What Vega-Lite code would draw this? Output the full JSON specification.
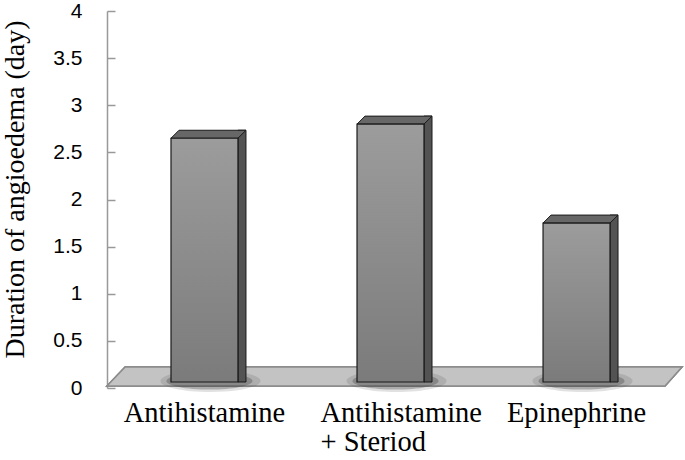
{
  "$schema": "https://vega.github.io/schema/vega-lite/v6.json",
  "width": 567,
  "height": 377,
  "autosize": "none",
  "padding": {"left": 107, "top": 11, "right": 11, "bottom": 72},
  "background": "white",
  "config": {"view": {"stroke": null}},
  "data": {"values": [
    {"treatment": "Antihistamine", "days": 2.65},
    {"treatment": "Antihistamine + Steriod", "days": 2.8},
    {"treatment": "Epinephrine", "days": 1.75}
  ]},
  "encoding": {
    "x": {
      "field": "treatment", "type": "nominal", "sort": null,
      "scale": {"domain": ["Antihistamine", "Antihistamine + Steriod", "Epinephrine"], "paddingInner": 0.64, "paddingOuter": 0.344},
      "axis": {
        "title": null, "domain": false, "ticks": false,
        "labelFont": "Liberation Serif", "labelFontSize": 28.5, "labelColor": "black",
        "labelPadding": 10, "labelAngle": 0, "labelLineHeight": 29, "labelOverlap": false, "labelLimit": 0,
        "labelAlign": {"condition": {"test": "datum.value == 'Antihistamine + Steriod'", "value": "left"}, "value": "center"},
        "labelOffset": {"condition": {"test": "datum.value == 'Antihistamine + Steriod'", "value": -70}, "value": 0},
        "labelExpr": "datum.value == 'Antihistamine + Steriod' ? ['Antihistamine', '+ Steriod'] : datum.value"
      }
    },
    "y": {
      "field": "days", "type": "quantitative",
      "scale": {"domain": [0, 4]},
      "axis": {
        "title": "Duration of angioedema (day)",
        "values": [0, 0.5, 1, 1.5, 2, 2.5, 3, 3.5, 4],
        "format": "~g", "grid": false,
        "labelFont": "Liberation Sans", "labelFontSize": 21, "labelColor": "black", "labelPadding": 33,
        "tickSize": -8, "tickColor": "#999999", "tickWidth": 1.5,
        "domainColor": "#999999", "domainWidth": 1.5,
        "titleFont": "Liberation Serif", "titleFontSize": 28, "titleFontWeight": "normal", "titleColor": "black",
        "titleX": -92, "titleY": 178, "titleAngle": -90, "titleBaseline": "middle", "titleAlign": "center"
      }
    }
  },
  "layer": [
    {
      "mark": {"type": "point", "shape": "M -1 0.033 L 0.941 0.033 L 1 -0.033 L -0.937 -0.033 Z", "size": 330625, "filled": true, "fill": "#c3c3c3", "stroke": "#8c8c8c", "strokeWidth": 1.5, "opacity": 1, "xOffset": 4},
      "encoding": {"x": {"datum": "Antihistamine + Steriod"}, "y": {"datum": 0.122}}
    },
    {
      "mark": {"type": "point", "shape": "M -1 0 A 1 0.22 0 1 1 1 0 A 1 0.22 0 1 1 -1 0 Z", "size": 10000, "filled": true, "fill": "#333333", "strokeWidth": 0, "opacity": 0.15, "xOffset": 6, "yOffset": -7},
      "encoding": {"y": {"datum": 0}}
    },
    {
      "mark": {"type": "point", "shape": "M -1 0 A 1 0.2 0 1 1 1 0 A 1 0.2 0 1 1 -1 0 Z", "size": 7400, "filled": true, "fill": "#333333", "strokeWidth": 0, "opacity": 0.3, "xOffset": 5, "yOffset": -7},
      "encoding": {"y": {"datum": 0}}
    },
    {
      "mark": {"type": "bar", "width": 8, "xOffset": 37.5, "yOffset": -8, "y2Offset": -6, "fill": "#535353", "stroke": "#1a1a1a", "strokeWidth": 1},
      "encoding": {"y2": {"datum": 0}}
    },
    {
      "mark": {"type": "point", "shape": "M -0.893 0 L -0.68 -0.213 L 1.107 -0.213 L 0.893 0 Z", "size": 5625, "filled": true, "fill": "#676767", "stroke": "#1a1a1a", "strokeWidth": 1, "opacity": 1}
    },
    {
      "mark": {"type": "bar", "y2Offset": -6, "stroke": "#1a1a1a", "strokeWidth": 1.2,
        "fill": {"gradient": "linear", "x1": 0, "y1": 0, "x2": 0, "y2": 1, "stops": [{"offset": 0, "color": "#9c9c9c"}, {"offset": 1, "color": "#7b7b7b"}]}},
      "encoding": {"y2": {"datum": 0}}
    }
  ]
}
